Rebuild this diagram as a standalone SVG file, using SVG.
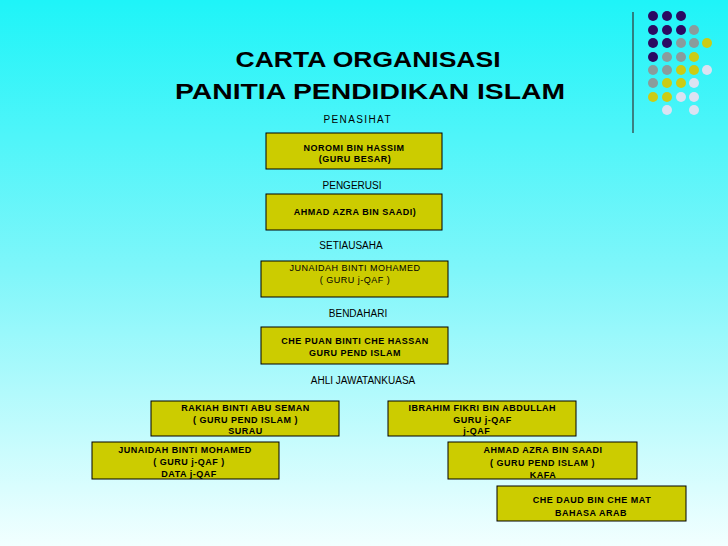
<svg xmlns="http://www.w3.org/2000/svg" width="728" height="546" viewBox="0 0 728 546">
<defs>
<linearGradient id="bg" x1="0" y1="0" x2="0" y2="1">
<stop offset="0" stop-color="#1ef4f8"/>
<stop offset="0.5" stop-color="#80f6fa"/>
<stop offset="1" stop-color="#f2ffff"/>
</linearGradient>
<style>
.box{fill:#cccc00;stroke:#000;stroke-width:1}
.t{font-family:"Liberation Sans",Arial,sans-serif;fill:#000;text-anchor:middle}
.b{font-size:9px;font-weight:bold;letter-spacing:0.5px}
.n{font-size:9px;letter-spacing:0.5px}
.lbl{font-size:10px}
.title{font-size:22px;font-weight:bold}
.navy{fill:#2b0a62}.gray{fill:#8a9c9c}.yel{fill:#cccc14}.lav{fill:#dce2f2}
</style>
</defs>
<rect x="0" y="0" width="728" height="546" fill="url(#bg)"/>
<g id="decor">
<line x1="633" y1="12" x2="633" y2="133" stroke="#333" stroke-width="1.2"/>
<circle class="navy" cx="653" cy="16" r="5"/><circle class="navy" cx="667" cy="16" r="5"/><circle class="navy" cx="681" cy="16" r="5"/>
<circle class="navy" cx="653" cy="30" r="5"/><circle class="navy" cx="667" cy="30" r="5"/><circle class="navy" cx="681" cy="30" r="5"/><circle class="gray" cx="694" cy="30" r="5"/>
<circle class="navy" cx="653" cy="43" r="5"/><circle class="navy" cx="667" cy="43" r="5"/><circle class="gray" cx="681" cy="43" r="5"/><circle class="gray" cx="694" cy="43" r="5"/><circle class="yel" cx="707" cy="43" r="5"/>
<circle class="navy" cx="653" cy="57" r="5"/><circle class="gray" cx="667" cy="57" r="5"/><circle class="gray" cx="681" cy="57" r="5"/><circle class="yel" cx="694" cy="57" r="5"/>
<circle class="gray" cx="653" cy="70" r="5"/><circle class="gray" cx="667" cy="70" r="5"/><circle class="yel" cx="681" cy="70" r="5"/><circle class="yel" cx="694" cy="70" r="5"/><circle class="lav" cx="707" cy="70" r="5"/>
<circle class="gray" cx="653" cy="83" r="5"/><circle class="yel" cx="667" cy="83" r="5"/><circle class="yel" cx="681" cy="83" r="5"/><circle class="lav" cx="694" cy="83" r="5"/>
<circle class="yel" cx="653" cy="97" r="5"/><circle class="yel" cx="667" cy="97" r="5"/><circle class="lav" cx="681" cy="97" r="5"/><circle class="lav" cx="694" cy="97" r="5"/>
<circle class="lav" cx="667" cy="110" r="5"/><circle class="lav" cx="694" cy="110" r="5"/>
</g>
<g id="title">
<text class="t title" x="368" y="67" textLength="265" lengthAdjust="spacingAndGlyphs">CARTA ORGANISASI</text>
<text class="t title" x="370" y="99" textLength="390" lengthAdjust="spacingAndGlyphs">PANITIA PENDIDIKAN ISLAM</text>
</g>
<g id="labels">
<text class="t lbl" x="357" y="122.5" textLength="67">PENASIHAT</text>
<text class="t lbl" x="352" y="189">PENGERUSI</text>
<text class="t lbl" x="351" y="249">SETIAUSAHA</text>
<text class="t lbl" x="358" y="317">BENDAHARI</text>
<text class="t lbl" x="363" y="384">AHLI JAWATANKUASA</text>
</g>
<g id="connectors"></g>
<g id="penasihat">
<rect class="box" x="266" y="133" width="176" height="36"/>
<text class="t b" x="354" y="150.5">NOROMI BIN HASSIM</text>
<text class="t b" x="355" y="161.5">(GURU BESAR)</text>
</g>
<g id="pengerusi">
<rect class="box" x="266" y="194" width="176" height="36"/>
<text class="t b" x="355" y="215">AHMAD AZRA BIN SAADI)</text>
</g>
<g id="setiausaha">
<rect class="box" x="261" y="261" width="187" height="36"/>
<text class="t n" x="355" y="271">JUNAIDAH BINTI MOHAMED</text>
<text class="t n" x="355" y="282.5">( GURU j-QAF )</text>
</g>
<g id="bendahari">
<rect class="box" x="261" y="327" width="187" height="37"/>
<text class="t b" x="355" y="344.3">CHE PUAN BINTI CHE HASSAN</text>
<text class="t b" x="355" y="355.7">GURU PEND ISLAM</text>
</g>
<g id="rakiah">
<rect class="box" x="151" y="401" width="188" height="35"/>
<text class="t b" x="245.5" y="410.7">RAKIAH BINTI ABU SEMAN</text>
<text class="t b" x="245.5" y="423.3">( GURU PEND ISLAM )</text>
<text class="t b" x="245.5" y="434.3">SURAU</text>
</g>
<g id="junaidah">
<rect class="box" x="92" y="442" width="187" height="37"/>
<text class="t b" x="185" y="452.7">JUNAIDAH BINTI MOHAMED</text>
<text class="t b" x="189" y="465">( GURU j-QAF )</text>
<text class="t b" x="189" y="477">DATA j-QAF</text>
</g>
<g id="ibrahim">
<rect class="box" x="388" y="401" width="188" height="35"/>
<text class="t b" x="482.3" y="410.7">IBRAHIM FIKRI BIN ABDULLAH</text>
<text class="t b" x="482.5" y="423">GURU j-QAF</text>
<text class="t b" x="476.7" y="434">j-QAF</text>
</g>
<g id="ahmad">
<rect class="box" x="448" y="442" width="189" height="37"/>
<text class="t b" x="543" y="453.3">AHMAD AZRA BIN SAADI</text>
<text class="t b" x="542.5" y="465.7">( GURU PEND ISLAM )</text>
<text class="t b" x="543" y="477.7">KAFA</text>
</g>
<g id="chedaud">
<rect class="box" x="497" y="486" width="189" height="35"/>
<text class="t b" x="592" y="502.7">CHE DAUD BIN CHE MAT</text>
<text class="t b" x="591" y="515.7">BAHASA ARAB</text>
</g>
</svg>
